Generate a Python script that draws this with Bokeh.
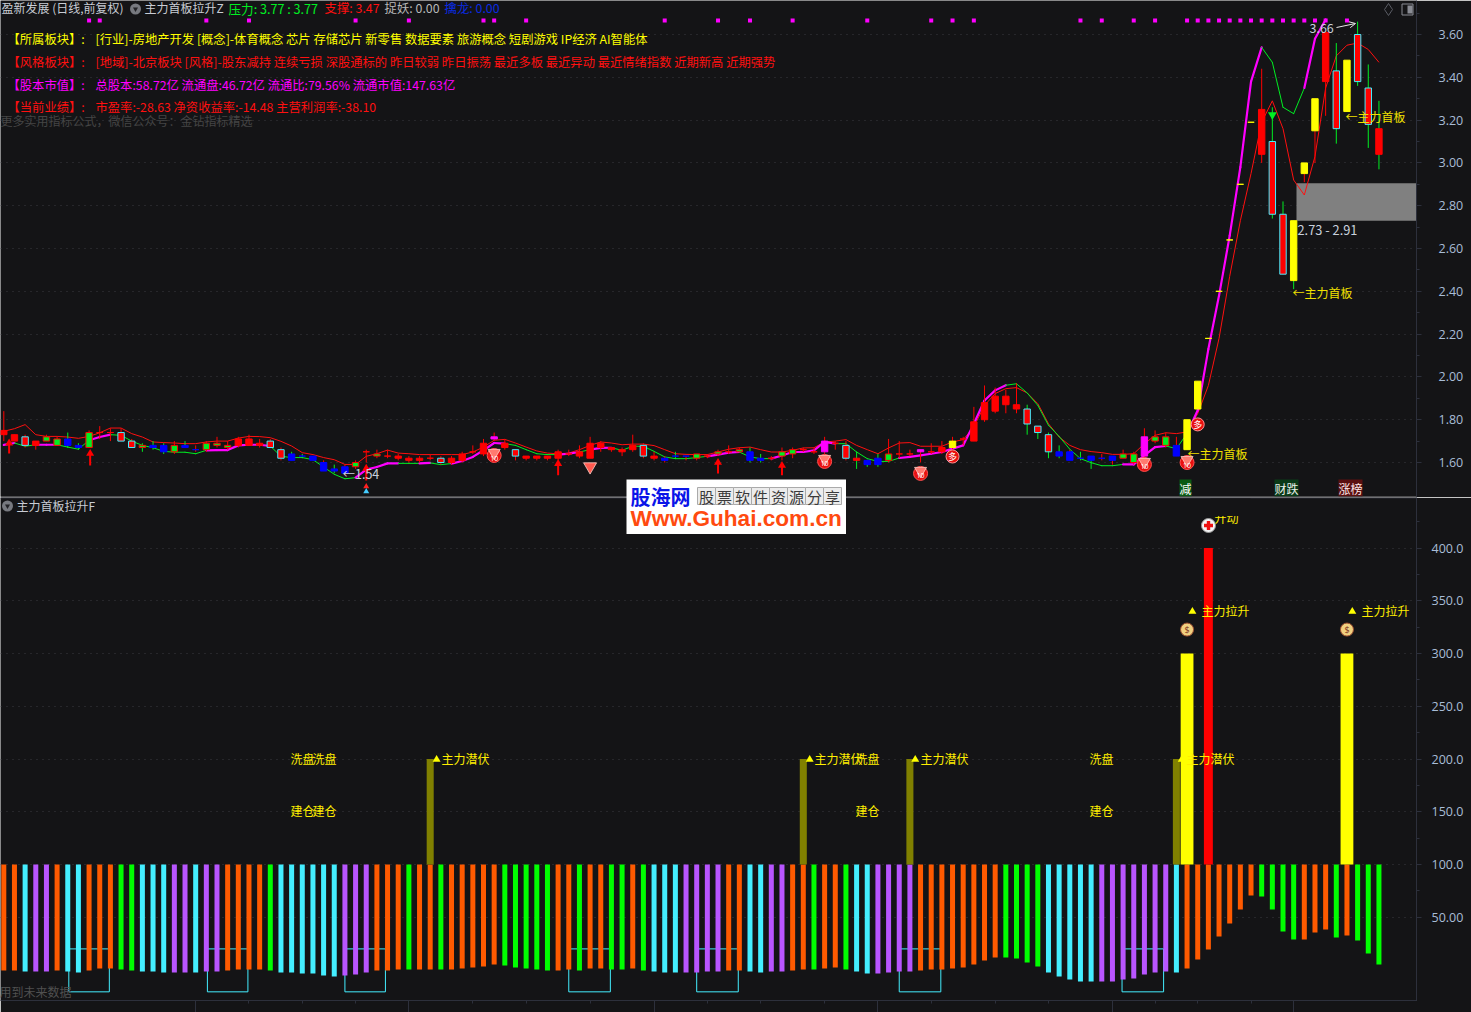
from bokeh.plotting import figure
from bokeh.layouts import column
from bokeh.embed import file_html
from bokeh.resources import INLINE
from bokeh.models import (ColumnDataSource, FixedTicker, Range1d, Label, Span, Arrow, OpenHead,
                          BoxAnnotation, NumeralTickFormatter, LinearAxis, Grid)

# ------------------------------------------------------------------ price pane data
body_top = [1.75,1.73,1.72,1.70,1.72,1.71,1.71,1.68,1.74,1.74,
            1.74,1.74,1.70,1.68,1.68,1.68,1.68,1.68,1.66,1.69,
            1.69,1.68,1.71,1.71,1.69,1.70,1.66,1.64,1.63,1.63,
            1.60,1.57,1.58,1.60,1.65,1.64,1.63,1.63,1.62,1.62,
            1.62,1.62,1.62,1.64,1.65,1.69,1.72,1.69,1.66,1.63,
            1.63,1.63,1.65,1.64,1.65,1.69,1.69,1.67,1.66,1.68,
            1.68,1.63,1.62,1.63,1.63,1.64,1.63,1.65,1.65,1.66,
            1.65,1.62,1.62,1.65,1.66,1.66,1.65,1.70,1.69,1.68,
            1.62,1.61,1.62,1.64,1.64,1.64,1.66,1.65,1.67,1.70,
            1.71,1.79,1.88,1.91,1.91,1.87,1.85,1.77,1.73,1.65,
            1.65,1.62,1.63,1.62,1.63,1.64,1.64,1.72,1.72,1.72,
            1.68,1.80,1.98,2.18,2.40,2.64,2.90,3.19,3.25,3.10,
            2.76,2.73,3.00,3.30,3.61,3.43,3.48,3.60,3.35,3.16]
body_bot = [1.73,1.70,1.68,1.68,1.70,1.68,1.68,1.67,1.67,1.74,
            1.74,1.70,1.67,1.67,1.67,1.65,1.65,1.67,1.66,1.66,
            1.68,1.67,1.68,1.68,1.68,1.67,1.62,1.61,1.63,1.61,
            1.56,1.56,1.55,1.58,1.65,1.63,1.63,1.62,1.61,1.61,
            1.62,1.60,1.60,1.61,1.65,1.64,1.71,1.67,1.63,1.62,
            1.62,1.62,1.62,1.64,1.63,1.62,1.67,1.66,1.65,1.66,
            1.63,1.62,1.61,1.63,1.63,1.62,1.63,1.64,1.65,1.65,
            1.61,1.61,1.62,1.63,1.64,1.66,1.65,1.65,1.69,1.62,
            1.61,1.59,1.59,1.61,1.64,1.64,1.65,1.65,1.65,1.67,
            1.71,1.70,1.80,1.84,1.87,1.85,1.78,1.74,1.65,1.63,
            1.61,1.62,1.61,1.62,1.61,1.62,1.60,1.63,1.70,1.68,
            1.63,1.66,1.85,2.18,2.40,2.64,2.90,3.19,3.04,2.76,
            2.48,2.45,2.95,3.15,3.38,3.16,3.24,3.38,3.18,3.04]
high = [1.84,1.73,1.73,1.70,1.73,1.72,1.74,1.69,1.75,1.77,
        1.76,1.76,1.71,1.69,1.70,1.69,1.70,1.70,1.68,1.70,
        1.72,1.70,1.72,1.73,1.71,1.71,1.67,1.65,1.64,1.63,
        1.61,1.59,1.59,1.61,1.66,1.66,1.66,1.64,1.63,1.63,
        1.64,1.63,1.63,1.65,1.68,1.71,1.74,1.71,1.66,1.63,
        1.63,1.63,1.66,1.66,1.68,1.72,1.70,1.67,1.67,1.73,
        1.69,1.65,1.63,1.65,1.63,1.64,1.64,1.66,1.68,1.67,
        1.67,1.64,1.63,1.67,1.67,1.67,1.67,1.72,1.70,1.70,
        1.65,1.61,1.64,1.71,1.70,1.66,1.66,1.69,1.70,1.72,
        1.72,1.86,1.96,1.95,1.94,1.97,1.87,1.77,1.74,1.68,
        1.66,1.65,1.63,1.64,1.63,1.66,1.65,1.76,1.75,1.74,
        1.72,1.80,1.98,2.18,2.40,2.64,2.90,3.19,3.44,3.26,
        2.82,2.73,3.00,3.30,3.61,3.56,3.48,3.66,3.46,3.29]
low = [1.70,1.70,1.67,1.66,1.70,1.68,1.67,1.66,1.67,1.71,
       1.70,1.70,1.67,1.65,1.66,1.64,1.64,1.67,1.65,1.65,
       1.67,1.66,1.67,1.68,1.67,1.67,1.61,1.61,1.62,1.61,
       1.56,1.55,1.54,1.57,1.60,1.62,1.62,1.61,1.60,1.60,
       1.61,1.59,1.59,1.60,1.64,1.63,1.70,1.66,1.61,1.61,
       1.61,1.61,1.61,1.63,1.62,1.62,1.65,1.65,1.63,1.65,
       1.62,1.61,1.60,1.62,1.61,1.61,1.62,1.63,1.64,1.65,
       1.60,1.60,1.61,1.61,1.62,1.65,1.64,1.64,1.66,1.61,
       1.57,1.58,1.58,1.60,1.62,1.63,1.60,1.64,1.64,1.66,
       1.68,1.70,1.79,1.83,1.83,1.83,1.73,1.71,1.62,1.62,
       1.61,1.61,1.57,1.61,1.59,1.62,1.59,1.61,1.69,1.67,
       1.63,1.66,1.85,2.18,2.40,2.64,2.90,3.19,3.00,2.74,
       2.48,2.41,2.91,3.00,3.22,3.09,3.24,3.36,3.07,2.97]
candle_kind = list("RRCRGGBBGR" "RCCGBBGBBG" "GGRRRCCBBB" "BBBGRGRRRR"
                   "RCRRRRMRCR" "RRRRRRRRRR" "CRBBBGRGRG" "BBRGGRRMRC"
                   "RBBGGGMRRY" "RRRRRRCCCB" "BBBBBGGMGG" "BYYYYYYYRC"
                   "CYYYRCYCCR")
green_wicks = [6,7,13,14,15,17,27,28,31,63,70,71,80,81,82,96,97,98,99,101,102,119,120,121,125,127,128,129]
upper_line = [1.746,1.758,1.777,1.730,1.722,1.722,1.719,1.713,1.722,1.739,
              1.761,1.761,1.735,1.719,1.696,1.693,1.691,1.688,1.688,1.696,
              1.700,1.700,1.714,1.722,1.721,1.716,1.699,1.677,1.646,1.637,
              1.623,1.613,1.591,1.591,1.629,1.641,1.658,1.644,1.641,1.637,
              1.637,1.637,1.637,1.637,1.649,1.672,1.704,1.708,1.691,1.672,
              1.654,1.644,1.641,1.644,1.660,1.680,1.696,1.691,1.683,1.686,
              1.686,1.679,1.660,1.641,1.638,1.637,1.637,1.649,1.662,1.669,
              1.672,1.660,1.649,1.649,1.657,1.668,1.669,1.696,1.700,1.707,
              1.680,1.660,1.641,1.668,1.691,1.693,1.676,1.676,1.676,1.696,
              1.707,1.766,1.867,1.922,1.945,1.950,1.925,1.875,1.781,1.719,
              1.680,1.660,1.651,1.646,1.638,1.638,1.641,1.688,1.727,1.739,
              1.735,1.743,1.828,1.96,2.18,2.47,2.73,2.95,3.19,3.29,
              3.16,2.92,2.85,3.03,3.35,3.50,3.55,3.56,3.53,3.47]
lower_line = [1.682,1.691,1.676,1.683,1.683,1.683,1.672,1.662,1.704,1.719,
              1.730,1.727,1.700,1.680,1.669,1.652,1.648,1.648,1.641,1.657,
              1.658,1.658,1.680,1.683,1.683,1.677,1.629,1.623,1.623,1.613,
              1.579,1.545,1.524,1.529,1.567,1.579,1.596,1.596,1.596,1.596,
              1.598,1.590,1.595,1.607,1.626,1.657,1.691,1.688,1.680,1.660,
              1.641,1.637,1.637,1.641,1.649,1.660,1.668,1.669,1.657,1.676,
              1.676,1.652,1.626,1.618,1.618,1.623,1.629,1.637,1.646,1.649,
              1.626,1.618,1.618,1.633,1.649,1.649,1.657,1.696,1.688,1.688,
              1.649,1.618,1.605,1.605,1.621,1.626,1.633,1.641,1.649,1.665,
              1.680,1.781,1.890,1.937,1.961,1.968,1.925,1.867,1.774,1.722,
              1.662,1.618,1.599,1.585,1.585,1.591,1.591,1.633,1.672,1.677,
              1.665,1.735,1.844,2.13,2.38,2.66,2.98,3.38,3.54,3.47,
              3.26,3.23,3.35,3.58,3.67]
rising_spans = [(0,1),(3,5),(8,10),(19,25),(33,37),(39,40),(42,47),(52,54),(55,57),
                (66,69),(72,78),(84,94),(105,109),(111,118),(122,124)]
signal_dots = [8,9,19,23,33,38,45,46,49,62,67,70,74,81,87,89,91,101,103,106,108,
               111,112,113,114,115,116,117,118,119,120,121,122,123,124,126]
signal_level = 3.665
arrow_bars = [0.5,8.1,34,52,67,73]
arrow_tip = [1.690,1.642,1.572,1.595,1.600,1.586]
arrow_tail = [1.642,1.586,1.516,1.540,1.549,1.540]
gem_bars = [46,77,86,107,111]
gem_price = [1.633,1.605,1.549,1.591,1.600]
plain_gem_bars = [55]
plain_gem_price = [1.581]
ball_bars = [89,112]
ball_price = [1.628,1.778]
gap_low, gap_high = 2.73, 2.905
price_ticks = [1.6,1.8,2.0,2.2,2.4,2.6,2.8,3.0,3.2,3.4,3.6]
price_minor = [1.7,1.9,2.1,2.3,2.5,2.7,2.9,3.1,3.3,3.5,3.7]

# ------------------------------------------------------------------ indicator pane data
osc_bottom = [-0.5,-0.5,-1.4,-1.4,-1.4,-0.5,-1.4,-2.4,-0.5,1.4,
              1.4,0.5,-0.5,-1.4,-1.4,-2.4,-2.4,-2.4,-2.4,-1.4,
              -1.4,-0.5,0.5,0.5,0.5,-0.5,-2.4,-2.4,-3.3,-3.3,
              -5.2,-6.2,-5.2,-4.3,-2.4,-0.5,-0.5,0.5,0.5,0.5,
              0.5,0.5,0.5,1.4,2.4,3.3,5.2,4.3,2.4,1.4,
              0.5,-0.5,-0.5,0.5,-0.5,1.4,1.4,0.5,0.5,1.4,
              -0.5,-1.4,-2.4,-2.4,-2.4,-2.4,-1.4,-1.4,-0.5,-0.5,
              -1.4,-2.4,-1.4,-1.4,-0.5,0.5,0.5,1.4,2.4,0.5,
              -1.4,-3.3,-3.3,-2.4,-1.4,-1.4,-0.5,0.5,0.5,1.4,
              2.4,5.2,9.0,11.8,11.8,10.9,7.1,3.3,-2.4,-6.2,
              -9.0,-10.9,-10.9,-10.9,-10.9,-9.0,-8.1,-4.3,-2.4,-1.4,
              -2.4,1.4,10.0,19.4,31.8,44.1,57.3,70.6,69.7,57.3,
              36.5,28.9,28.9,35.5,38.4,30.8,32.7,28.0,15.6,5.2]
osc_kind = list("OOCPPOCCOO" "OGGCCCPPCP" "POOOOGCCCC" "CCPPPOOOGO"
                "OGOOOOOGGG" "GGOOGOOGGO" "GCCCPPPPOO" "CCPPOOGOOG"
                "CCPPPPOOOO" "OOOOGGGGCC" "CCCPPPPPPP" "COOOOOOOGG"
                "GGOOOGOGGG")
osc_base = 100.0
olive_bars = [40,75,85,110]
olive_top = [200,200,200,200]
yellow_bars = [111,126]
yellow_top = [300,300]
red_bars = [113]
red_top = [400]
bracket_left = [6.1,19.1,32.0,53.0,65.0,84.0,104.9]
bracket_right = [9.9,22.9,35.8,56.9,68.9,87.9,108.8]
bracket_top = 20.0
bracket_bottom = -20.7
osc_ticks = [50,100,150,200,250,300,350,400]
osc_minor = [75,125,175,225,275,325,375,425]
osc_labels = {50:"50.00",100:"100.0",150:"150.0",200:"200.0",250:"250.0",300:"300.0",350:"350.0",400:"400.0"}
month_bars = [18,38,61,82,104,121]
week_bars = [23,28,33,44,49,55,66,71,77,87,93,98,108,112,117]
signal_tri_bars = [40.6,75.6,85.5,110.5,111.5,126.5]
signal_tri_level = [199.5,199.5,199.5,199.5,339.8,339.8]
bag_bars = [111,126]
bag_level = [322.7,322.7]

# ------------------------------------------------------------------ styles
BG = "#141416"
AXIS = "#2d303c"
TICKTXT = "#a9bdd6"
CJK = "Noto Sans CJK SC"
KIND_FILL = {"R":"#ff0000","C":"#ff0000","G":"#00ee22","B":"#0000ff","Y":"#ffff00","M":"#ff00ff"}
KIND_EDGE = {"R":"#ff0000","C":"#44eeff","G":"#ff0000","B":"#0000ff","Y":"#ffff00","M":"#ff00ff"}
OSC_FILL = {"O":"#ff5a00","C":"#44eeff","P":"#b855ff","G":"#00ff00"}

def px_x(x):  return (x - 3.3) / 10.66
def py_price(y): return 1.6 + (462 - y) / 214.0
def py_osc(y):   return 100 + (864 - y) / 1.055

x_range = Range1d(px_x(0), px_x(1416))

def base(h, yr, **kw):
    p = figure(width=1471, height=h, x_range=x_range, y_range=yr, output_backend="svg",
               toolbar_location=None, background_fill_color=BG, border_fill_color=BG,
               x_axis_type=None, y_axis_type=None, min_border_left=0, min_border_top=0,
               min_border_right=55, outline_line_color=None, **kw)
    p.xgrid.visible = False
    p.ygrid.visible = False
    return p

def add_y(p, ticks, minor, standoff):
    ax = LinearAxis(ticker=FixedTicker(ticks=ticks, minor_ticks=minor), axis_line_color=AXIS,
                    major_tick_line_color=AXIS, minor_tick_line_color=AXIS, major_tick_in=0,
                    major_tick_out=5, minor_tick_in=0, minor_tick_out=3,
                    major_label_text_color=TICKTXT, major_label_text_font="Open Sans",
                    major_label_text_font_size="12.5px", major_label_standoff=standoff)
    p.add_layout(ax, "right")
    p.add_layout(Grid(dimension=1, ticker=FixedTicker(ticks=ticks), grid_line_color="#3a3a40",
                      grid_line_dash="1 5", grid_line_width=1))
    return ax

def label(p, px, py, text, color, size="12px", conv=None, **kw):
    kw.setdefault("text_baseline", "middle")
    kw.setdefault("text_align", "left")
    kw.setdefault("text_font", CJK)
    p.add_layout(Label(x=px_x(px - 1), y=conv(py - 1), text=text, text_color=color, text_font_size=size, **kw))

# ------------------------------------------------------------------ price pane
p1 = base(497, Range1d(py_price(496), py_price(0)), min_border_bottom=1)
add_y(p1, price_ticks, price_minor, 17).formatter = NumeralTickFormatter(format="0.00")

idx = list(range(len(body_top)))
assert len(idx) == 130 and len(candle_kind) == 130 and len(osc_kind) == 130 and len(osc_bottom) == 130
assert len(body_bot) == 130 and len(high) == 130 and len(low) == 130 and len(upper_line) == 130

p1.quad(left=[px_x(1296)], right=[px_x(1416)], bottom=[gap_low], top=[gap_high],
        fill_color="#808080", line_color=None)

p1.line(idx, upper_line, line_color="#ff1010", line_width=1)

seg_x0, seg_x1, seg_y0, seg_y1, seg_c, seg_w = [], [], [], [], [], []
for i in range(len(lower_line) - 1):
    rising = any(a <= i < b for a, b in rising_spans)
    seg_x0.append(i); seg_x1.append(i + 1)
    seg_y0.append(lower_line[i]); seg_y1.append(lower_line[i + 1])
    seg_c.append("#ff00ff" if rising else "#00ee22")
    seg_w.append(2.2 if rising else 1)
p1.segment(seg_x0, seg_y0, seg_x1, seg_y1, line_color=seg_c, line_width=seg_w, line_cap="round")

wick_c = ["#00ee22" if i in green_wicks else "#ff0000" for i in idx]
p1.segment(idx, high, idx, low, line_color=wick_c, line_width=1)
p1.vbar(x=idx, top=body_top, bottom=body_bot, width=0.6,
        fill_color=[KIND_FILL[k] for k in candle_kind],
        line_color=[KIND_EDGE[k] for k in candle_kind], line_width=1)

p1.scatter(signal_dots, [signal_level] * len(signal_dots), marker="square", size=4,
           fill_color="#ff00ff", line_color=None)

p1.segment(arrow_bars, arrow_tail, arrow_bars, arrow_tip, line_color="#ff0000", line_width=2)
p1.scatter(arrow_bars, arrow_tip, marker="triangle", size=8, fill_color="#ff0000", line_color=None)

p1.scatter(gem_bars, gem_price, marker="circle", size=14, fill_color="#e81010", line_color="#ff5050")
p1.scatter(gem_bars, [v + 0.012 for v in gem_price], marker="inverted_triangle", size=12,
           fill_color="#ff7a70", line_color="#ffd0c8", line_width=0.8)
p1.scatter(plain_gem_bars, plain_gem_price, marker="inverted_triangle", size=13,
           fill_color="#ff5a50", line_color="#ffd0c8", line_width=0.8)
p1.scatter(ball_bars, ball_price, marker="circle", size=13, fill_color="#e81010", line_color="#ff9090")
for b, v in zip(ball_bars, ball_price):
    p1.add_layout(Label(x=b, y=v, text="多", text_color="#ffffff", text_font=CJK, text_font_size="9px",
                        text_align="center", text_baseline="middle"))
for b, v in zip(gem_bars, gem_price):
    p1.add_layout(Label(x=b, y=v - 0.012, text="10", text_color="#ffffff", text_font="Open Sans",
                        text_font_size="7px", text_align="center", text_baseline="middle"))

p1.scatter([119], [3.225], marker="inverted_triangle", size=9, fill_color="#00ee22", line_color=None)
p1.scatter([34, 34], [py_price(486), py_price(491)], marker="triangle", size=6,
           fill_color=["#ff2020", "#44ccff"], line_color=None)

p1.add_layout(Arrow(end=OpenHead(size=6, line_color="#e8e8e8", line_width=1),
                    x_start=px_x(1336), y_start=py_price(27), x_end=px_x(1355), y_end=py_price(23),
                    line_color="#e8e8e8", line_width=1))

P = dict(conv=py_price)
H = "12.3px"
label(p1, 2, 8, "盈新发展 (日线,前复权)", "#c8ccd4", **P)
p1.scatter([px_x(135)], [py_price(8.5)], marker="circle", size=11, fill_color="#77797f", line_color=None)
p1.scatter([px_x(135)], [py_price(8.5)], marker="inverted_triangle", size=5, fill_color="#222226", line_color=None)
label(p1, 145, 8, "主力首板拉升Z", "#c8ccd4", **P)
label(p1, 229, 9.4, "压力: 3.77 : 3.77", "#00ee22", "12.6px", **P)
label(p1, 325, 8, "支撑: 3.47", "#ff1010", "12.4px", **P)
label(p1, 385, 8, "捉妖: 0.00", "#b8b8b8", "12.4px", **P)
label(p1, 445, 8, "擒龙: 0.00", "#0a2be0", "12.4px", **P)

label(p1, 8, 39, "【所属板块】:", "#ffff00", H, **P)
label(p1, 96, 39, "[行业]-房地产开发 [概念]-体育概念 芯片 存储芯片 新零售 数据要素 旅游概念 短剧游戏 IP经济 AI智能体", "#ffff00", H, **P)
label(p1, 8, 62, "【风格板块】:", "#ff1010", H, **P)
label(p1, 96, 62, "[地域]-北京板块 [风格]-股东减持 连续亏损 深股通标的 昨日较弱 昨日振荡 最近多板 最近异动 最近情绪指数 近期新高 近期强势", "#ff1010", H, **P)
label(p1, 8, 85, "【股本市值】:", "#ff00ff", H, **P)
label(p1, 96, 85, "总股本:58.72亿 流通盘:46.72亿 流通比:79.56% 流通市值:147.63亿", "#ff00ff", H, **P)
label(p1, 8, 107, "【当前业绩】:", "#ff1010", H, **P)
label(p1, 96, 107, "市盈率:-28.63 净资收益率:-14.48 主营利润率:-38.10", "#ff1010", H, **P)
label(p1, 1, 121, "更多实用指标公式，微信公众号：金钻指标精选", "#454545", **P)

label(p1, 1310, 28, "3.66", "#c8d0dc", "12.5px", **P)
label(p1, 343, 474, "←1.54", "#c8d0dc", "12.5px", **P)
label(p1, 1298, 230, "2.73 - 2.91", "#c8d0dc", "12.8px", **P)
label(p1, 1188, 454, "←主力首板", "#f0e000", **P)
label(p1, 1293, 293, "←主力首板", "#f0e000", **P)
label(p1, 1346, 117, "←主力首板", "#f0e000", **P)
label(p1, 1180, 488.5, "减", "#ffffff", background_fill_color="#0a5a14", **P)
label(p1, 1275, 488.5, "财跌", "#e8f0e8", background_fill_color="#0a3a18", **P)
label(p1, 1339, 488.5, "涨榜", "#ffe8e8", background_fill_color="#5a1010", **P)

p1.scatter([px_x(1388)], [py_price(9)], marker="diamond", size=12, fill_color=None, line_color="#5a5c64")
p1.scatter([px_x(1407)], [py_price(9)], marker="square", size=11, fill_color=None, line_color="#8a8c94")
p1.quad(left=[px_x(1407)], right=[px_x(1412)], bottom=[py_price(13)], top=[py_price(5)],
        fill_color="#8a8c94", line_color=None)

# ------------------------------------------------------------------ indicator pane
p2 = base(515, Range1d(py_osc(1000), py_osc(497)), min_border_bottom=12)
ax2 = add_y(p2, osc_ticks, osc_minor, 10)
ax2.major_label_overrides = osc_labels

xax = LinearAxis(ticker=FixedTicker(ticks=month_bars, minor_ticks=week_bars), axis_line_color=AXIS,
                 major_tick_line_color=AXIS, minor_tick_line_color=AXIS, major_tick_in=0,
                 major_tick_out=12, minor_tick_in=0, minor_tick_out=3,
                 major_label_text_font_size="0px", major_label_standoff=0,
                 major_label_overrides={m: "" for m in month_bars})
p2.add_layout(xax, "below")
p2.add_layout(Span(location=py_osc(497.5), dimension="width", line_color="#282a34", line_width=1))

p2.quad(left=bracket_left, right=bracket_right, bottom=[bracket_bottom] * 7, top=[bracket_top] * 7,
        fill_color=None, line_color="#44eeff", line_width=1)
p2.vbar(x=idx, top=[osc_base] * 130, bottom=osc_bottom, width=0.47,
        fill_color=[OSC_FILL[k] for k in osc_kind], line_color=None)
p2.vbar(x=olive_bars, top=olive_top, bottom=[osc_base] * 4, width=0.66, fill_color="#808000", line_color=None)
p2.vbar(x=yellow_bars, top=yellow_top, bottom=[osc_base] * 2, width=1.2, fill_color="#ffff00", line_color=None)
p2.vbar(x=red_bars, top=red_top, bottom=[osc_base], width=0.84, fill_color="#ff0000", line_color=None)

p2.scatter(signal_tri_bars, signal_tri_level, marker="triangle", size=8, fill_color="#ffff00", line_color=None)
p2.scatter(bag_bars, bag_level, marker="circle", size=13, fill_color="#f0d080", line_color="#a05030")
p2.scatter([px_x(1208)], [py_osc(525)], marker="circle", size=14, fill_color="#f4f4f4", line_color="#999999")
p2.scatter([px_x(1208)], [py_osc(525)], marker="plus", size=9, fill_color="#ee1010", line_color=None)

O = dict(conv=py_osc)
for b, v in zip(bag_bars, bag_level):
    p2.add_layout(Label(x=b, y=v, text="$", text_color="#803020", text_font="Open Sans", text_font_size="9px",
                        text_align="center", text_baseline="middle"))

label(p2, 17, 505.5, "主力首板拉升F", "#c8ccd4", **O)
p2.scatter([px_x(7)], [py_osc(505.5)], marker="circle", size=11, fill_color="#77797f", line_color=None)
p2.scatter([px_x(7)], [py_osc(505.5)], marker="inverted_triangle", size=5, fill_color="#222226", line_color=None)
label(p2, 0, 992, "用到未来数据", "#505050", **O)

YL = "#ffee00"
for px in (291, 313, 856, 1090):
    label(p2, px, 759, "洗盘", YL, **O)
    label(p2, px, 811, "建仓", YL, **O)
for px in (442, 815, 921, 1187):
    label(p2, px, 759, "主力潜伏", YL, **O)
for px in (1202, 1362):
    label(p2, px, 611, "主力拉升", YL, **O)
label(p2, 1215, 518, "开动", YL, **O)
p2.add_layout(BoxAnnotation(left=px_x(1210), right=px_x(1250), top=py_osc(498), bottom=py_osc(515.5),
                            fill_color=BG, fill_alpha=1, line_color=None))

for px, t in ((3, "2025年"), (196, "6"), (409, "7"), (654, "8"), (878, "9"), (1113, "10"), (1294, "11")):
    label(p2, px, 1006, t, "#c8d0e0", "11.5px", **O)
label(p2, 1430, 1006, "日线", "#c8d0e0", "11.5px", **O)
p2.add_layout(Span(location=px_x(1466), dimension="height", line_color=AXIS, line_width=1))

# ------------------------------------------------------------------ logo overlay
logo = figure(frame_width=220, frame_height=55, x_range=Range1d(0, 220), y_range=Range1d(55, 0),
              output_backend="svg", toolbar_location=None, background_fill_color="#ffffff",
              border_fill_color="#ffffff", x_axis_type=None, y_axis_type=None,
              min_border_left=0, min_border_right=0, min_border_top=0, min_border_bottom=0,
              outline_line_color=None, sizing_mode="fixed",
              styles={"position": "absolute", "left": "626px", "top": "479px", "z-index": "5",
                      "width": "220px", "height": "55px"})
logo.xgrid.visible = False
logo.ygrid.visible = False
logo_chars = list("股票软件资源分享")
logo.quad(left=[71 + 18 * i for i in range(8)], right=[89 + 18 * i for i in range(8)],
          top=[8] * 8, bottom=[25] * 8, fill_color="#ececec", line_color="#aaaaaa")
for i, c in enumerate(logo_chars):
    logo.add_layout(Label(x=80 + 18 * i, y=16.5, text=c, text_color="#3a3a3a", text_font=CJK, text_font_size="15px",
                          text_align="center", text_baseline="middle"))
logo.add_layout(Label(x=4, y=17, text="股海网", text_color="#0a14e8", text_font=CJK, text_font_size="20px",
                      text_font_style="bold", text_baseline="middle"))
logo.add_layout(Label(x=4, y=39, text="Www.Guhai.com.cn", text_color="#ff4a10", text_font="Liberation Sans",
                      text_font_size="22.6px", text_font_style="bold", text_baseline="middle"))

root = column(p1, p2, logo, spacing=0, styles={"position": "absolute", "left": "0px", "top": "0px"})
open("out.html", "w").write(file_html(root, INLINE))
